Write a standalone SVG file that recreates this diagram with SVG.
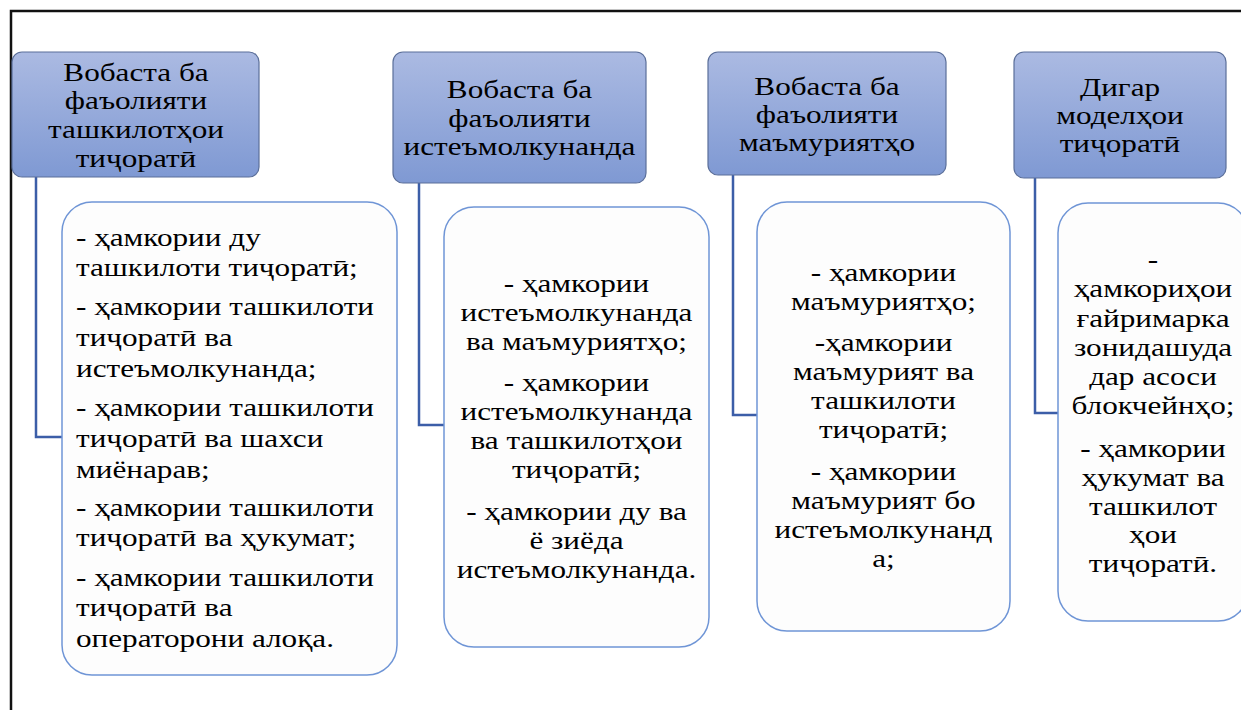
<svg xmlns="http://www.w3.org/2000/svg" width="1241" height="710" viewBox="0 0 1241 710" font-family="'Liberation Serif', serif">
<defs>
<linearGradient id="hg" x1="0" y1="0" x2="0" y2="1">
<stop offset="0" stop-color="#abbae2"/>
<stop offset="1" stop-color="#7f99d3"/>
</linearGradient>
<style>
.hdr{fill:url(#hg);stroke:#5b6f9a;stroke-width:1.2}
.box{fill:#fdfdfd;stroke:#6f95d6;stroke-width:1.5}
.t{font-size:26px;fill:#000}
.c{text-anchor:middle}
.conn{fill:none;stroke:#3c5ea8;stroke-width:2.5}
.frame{fill:none;stroke:#111;stroke-width:2.5}
</style>
</defs>
<rect width="1241" height="710" fill="#fff"/>
<path class="frame" d="M11,710 V11 H1241"/>

<g id="connectors">
<path class="conn" d="M36,177 V437 H62"/>
<path class="conn" d="M419,183 V425 H444"/>
<path class="conn" d="M733,175 V415 H757"/>
<path class="conn" d="M1035,178 V413 H1058"/>
</g>

<g id="header1">
<rect class="hdr" x="12" y="52" width="247" height="125" rx="10"/>
<g transform="translate(136 0) scale(1.2 1)">
<text class="t c"><tspan x="0" y="81">Вобаста ба</tspan><tspan x="0" y="109">фаъолияти</tspan><tspan x="0" y="138">ташкилотҳои</tspan><tspan x="0" y="167">тиҷоратӣ</tspan></text>
</g>
</g>

<g id="header2">
<rect class="hdr" x="393" y="52" width="253" height="131" rx="10"/>
<g transform="translate(519.5 0) scale(1.2 1)">
<text class="t c"><tspan x="0" y="98">Вобаста ба</tspan><tspan x="0" y="127">фаъолияти</tspan><tspan x="0" y="155">истеъмолкунанда</tspan></text>
</g>
</g>

<g id="header3">
<rect class="hdr" x="708" y="52" width="238" height="123" rx="10"/>
<g transform="translate(827 0) scale(1.2 1)">
<text class="t c"><tspan x="0" y="95">Вобаста ба</tspan><tspan x="0" y="123">фаъолияти</tspan><tspan x="0" y="151">маъмуриятҳо</tspan></text>
</g>
</g>

<g id="header4">
<rect class="hdr" x="1014" y="52" width="212" height="126" rx="10"/>
<g transform="translate(1120 0) scale(1.2 1)">
<text class="t c"><tspan x="0" y="96">Дигар</tspan><tspan x="0" y="124">моделҳои</tspan><tspan x="0" y="152">тиҷоратӣ</tspan></text>
</g>
</g>

<g id="box1">
<rect class="box" x="62" y="202" width="335" height="473" rx="30"/>
<g transform="translate(76 0) scale(1.2 1)">
<text class="t"><tspan x="0" y="246">- ҳамкории ду</tspan><tspan x="0" y="276">ташкилоти тиҷоратӣ;</tspan><tspan x="0" y="315">- ҳамкории ташкилоти</tspan><tspan x="0" y="346">тиҷоратӣ ва</tspan><tspan x="0" y="377">истеъмолкунанда;</tspan><tspan x="0" y="416">- ҳамкории ташкилоти</tspan><tspan x="0" y="447">тиҷоратӣ ва шахси</tspan><tspan x="0" y="478">миёнарав;</tspan><tspan x="0" y="516">- ҳамкории ташкилоти</tspan><tspan x="0" y="546">тиҷоратӣ ва ҳукумат;</tspan><tspan x="0" y="586">- ҳамкории ташкилоти</tspan><tspan x="0" y="616">тиҷоратӣ ва</tspan><tspan x="0" y="647">операторони алоқа.</tspan></text>
</g>
</g>

<g id="box2">
<rect class="box" x="444" y="207" width="265" height="440" rx="30"/>
<g transform="translate(576.5 0) scale(1.2 1)">
<text class="t c"><tspan x="0" y="292">- ҳамкории</tspan><tspan x="0" y="321">истеъмолкунанда</tspan><tspan x="0" y="350">ва маъмуриятҳо;</tspan><tspan x="0" y="391">- ҳамкории</tspan><tspan x="0" y="420">истеъмолкунанда</tspan><tspan x="0" y="449">ва ташкилотҳои</tspan><tspan x="0" y="478">тиҷоратӣ;</tspan><tspan x="0" y="520">- ҳамкории ду ва</tspan><tspan x="0" y="549">ё зиёда</tspan><tspan x="0" y="578">истеъмолкунанда.</tspan></text>
</g>
</g>

<g id="box3">
<rect class="box" x="757" y="202" width="253" height="429" rx="30"/>
<g transform="translate(883.5 0) scale(1.2 1)">
<text class="t c"><tspan x="0" y="281">- ҳамкории</tspan><tspan x="0" y="310">маъмуриятҳо;</tspan><tspan x="0" y="351">-ҳамкории</tspan><tspan x="0" y="380">маъмурият ва</tspan><tspan x="0" y="409">ташкилоти</tspan><tspan x="0" y="438">тиҷоратӣ;</tspan><tspan x="0" y="480">- ҳамкории</tspan><tspan x="0" y="509">маъмурият бо</tspan><tspan x="0" y="538">истеъмолкунанд</tspan><tspan x="0" y="567">а;</tspan></text>
</g>
</g>

<g id="box4">
<rect class="box" x="1058" y="203" width="190" height="418" rx="30"/>
<g transform="translate(1153 0) scale(1.2 1)">
<text class="t c"><tspan x="0" y="268">-</tspan><tspan x="0" y="297">ҳамкориҳои</tspan><tspan x="0" y="327">ғайримарка</tspan><tspan x="0" y="356">зонидашуда</tspan><tspan x="0" y="385">дар асоси</tspan><tspan x="0" y="414">блокчейнҳо;</tspan><tspan x="0" y="457">- ҳамкории</tspan><tspan x="0" y="486">ҳукумат ва</tspan><tspan x="0" y="515">ташкилот</tspan><tspan x="0" y="543">ҳои</tspan><tspan x="0" y="572">тиҷоратӣ.</tspan></text>
</g>
</g>
</svg>
